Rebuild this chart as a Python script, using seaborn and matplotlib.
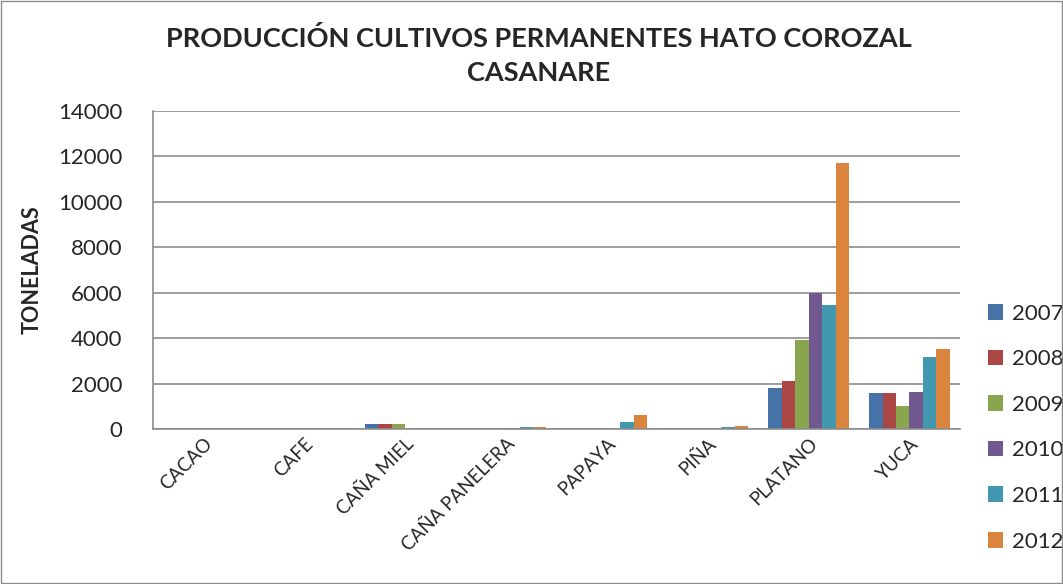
"""Producción de cultivos permanentes, Hato Corozal (Casanare)."""

import numpy as np
import pandas as pd
import seaborn as sns
import matplotlib.pyplot as plt
from matplotlib.patches import Rectangle

# -----------------------------------------------------------------------------

cultivos = ['CACAO', 'CAFE', 'CAÑA MIEL', 'CAÑA PANELERA', 'PAPAYA', 'PIÑA', 'PLATANO', 'YUCA']
anios = ['2007', '2008', '2009', '2010', '2011', '2012']

t2007 = [0, 0, 230, 0, 0, 0, 1800, 1590]
t2008 = [0, 0, 230, 0, 0, 0, 2110, 1590]
t2009 = [0, 0, 230, 0, 0, 0, 3920, 1010]
t2010 = [0, 0, 0, 60, 0, 0, 6000, 1630]
t2011 = [0, 0, 0, 90, 300, 100, 5460, 3170]
t2012 = [0, 0, 0, 100, 620, 150, 11700, 3520]

colores = ['#4572A7', '#AA4643', '#89A54E', '#71588F', '#4198AF', '#DB843D']

# -----------------------------------------------------------------------------

series = [t2007, t2008, t2009, t2010, t2011, t2012]
df = pd.DataFrame({
    'cultivo': cultivos * len(anios),
    'anio': [a for a in anios for _ in cultivos],
    'toneladas': [v for s in series for v in s],
})

sns.set_style('white')
plt.rcParams['font.family'] = ['Lato', 'DejaVu Sans']

fig = plt.figure(figsize=(10.63, 5.84), dpi=100)
ax = fig.add_axes([0.144, 0.265, 0.759, 0.545])

sns.barplot(data=df, x='cultivo', y='toneladas', hue='anio', order=cultivos,
            hue_order=anios, palette=colores, width=0.8, saturation=1,
            edgecolor='none', ax=ax)

ax.set_ylim(0, 14000)
ax.set_yticks(np.arange(0, 14001, 2000))
ax.yaxis.grid(True, color='#8C8C8C', linewidth=1.2)
ax.set_axisbelow(True)
for side in ['top', 'right']:
    ax.spines[side].set_visible(False)
ax.spines['left'].set_color('#8C8C8C')
ax.spines['bottom'].set_color('#8C8C8C')
ax.spines['left'].set_linewidth(1.2)
ax.spines['bottom'].set_linewidth(1.2)
ax.tick_params(axis='y', labelsize=16, length=0, pad=22)
ax.tick_params(axis='x', labelsize=13.5, length=0, pad=4)
plt.setp(ax.get_xticklabels(), rotation=45, ha='right', rotation_mode='anchor')

ax.set_xlabel('')
ax.set_ylabel('TONELADAS', fontsize=15.5, fontweight='bold', labelpad=11)
fig.text(0.507, 0.905, 'PRODUCCIÓN CULTIVOS PERMANENTES HATO COROZAL\nCASANARE',
         ha='center', va='center', fontsize=19.5, fontweight='bold', linespacing=1.5)

ax.legend(loc='center left', bbox_to_anchor=(1.015, 0.005), frameon=False,
          fontsize=16, handlelength=0.7, handleheight=0.7, labelspacing=1.15,
          handletextpad=0.4, borderaxespad=0.3)

fig.patches.append(Rectangle((0.001, 0.002), 0.998, 0.996, transform=fig.transFigure,
                             fill=False, edgecolor='#8C8C8C', linewidth=1))

fig.savefig('out.png', dpi=100)
